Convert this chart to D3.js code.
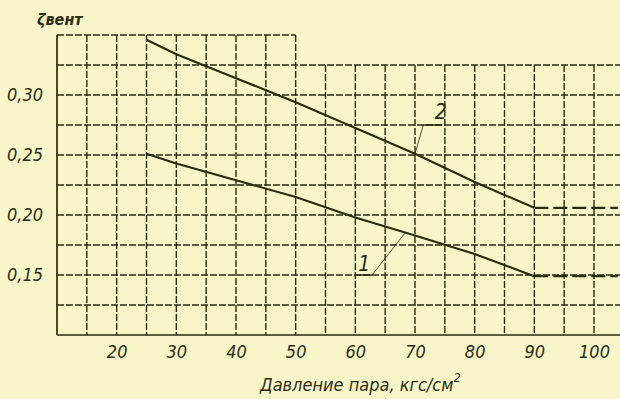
<!DOCTYPE html>
<html><head><meta charset="utf-8">
<script src="https://cdn.jsdelivr.net/npm/d3@7"></script>
<style>
html,body{margin:0;padding:0;background:#f8f6c8;}
svg{display:block;}
text{font-family:"Liberation Sans Narrow","DejaVu Sans Condensed",sans-serif;font-style:italic;fill:#2c2c12;}
</style></head>
<body>
<script>
// data
const xTicks = [20, 30, 40, 50, 60, 70, 80, 90, 100];
const yTicks = [0.15, 0.20, 0.25, 0.30];
const yTickLabels = ["0,15", "0,20", "0,25", "0,30"];
const pressure = [25, 30, 40, 50, 60, 70, 80, 90];
const curve1 = [0.251, 0.243, 0.229, 0.215, 0.198, 0.183, 0.1675, 0.149];
const curve2 = [0.346, 0.334, 0.314, 0.294, 0.2725, 0.251, 0.2275, 0.206];
const tailX = [90, 104];
const tail1 = [0.149, 0.149];
const tail2 = [0.206, 0.206];
const yTitle = "ζвент";
const xTitle = "Давление пара, кгс/см";

const W = 620, H = 399;
const svg = d3.select("body").append("svg").attr("width", W).attr("height", H);
svg.append("rect").attr("width", W).attr("height", H).attr("fill", "#f8f6c8");

const x = d3.scaleLinear().domain([10, 100]).range([57, 594]);
const y = d3.scaleLinear().domain([0.10, 0.35]).range([335, 35]);
const ink = "#2a2a10";
const font = '"Liberation Sans Narrow","DejaVu Sans Condensed",sans-serif';

// grid
const g = svg.append("g");
const vLines = d3.range(10, 101, 5);
g.selectAll("line.v").data(vLines).enter().append("line")
  .attr("x1", d => x(d)).attr("x2", d => x(d))
  .attr("y1", d => y(d <= 50 ? 0.35 : 0.325)).attr("y2", y(0.10))
  .attr("stroke", ink).attr("stroke-width", d => d === 10 ? 1.7 : 1.4)
  .attr("stroke-dasharray", d => d === 10 ? null : "7,2");
const hLines = d3.range(0, 11).map(i => 0.10 + i * 0.025);
g.selectAll("line.h").data(hLines).enter().append("line")
  .attr("x1", x(10)).attr("x2", d => d > 0.34 ? x(50) : W)
  .attr("y1", d => y(d)).attr("y2", d => y(d))
  .attr("stroke", ink).attr("stroke-width", d => d < 0.11 ? 1.7 : 1.4)
  .attr("stroke-dasharray", d => d < 0.11 ? null : "7,2");

// curves
const line = d3.line().x(d => x(d[0])).y(d => y(d[1]));
[curve1, curve2].forEach(c => {
  svg.append("path").datum(pressure.map((p, i) => [p, c[i]]))
    .attr("d", line).attr("fill", "none").attr("stroke", ink).attr("stroke-width", 2.1);
});
[tail1, tail2].forEach(c => {
  svg.append("path").datum(tailX.map((p, i) => [p, c[i]]))
    .attr("d", line).attr("fill", "none").attr("stroke", ink).attr("stroke-width", 2.3)
    .attr("stroke-dasharray", "14,5");
});

// axes tick labels
const xAxis = svg.append("g").attr("transform", `translate(0,${y(0.10)})`)
  .call(d3.axisBottom(x).tickValues(xTicks).tickSize(0).tickPadding(10).tickFormat(d3.format("d")));
xAxis.select(".domain").remove();
xAxis.selectAll("text").attr("font-size", 18).attr("fill", ink)
  .style("font-family", font).style("font-style", "italic");

const yAxis = svg.append("g").attr("transform", `translate(${x(10)},0)`)
  .call(d3.axisLeft(y).tickValues(yTicks).tickSize(0).tickPadding(14).tickFormat((d, i) => yTickLabels[i]));
yAxis.select(".domain").remove();
yAxis.selectAll("text").attr("font-size", 18).attr("fill", ink)
  .style("font-family", font).style("font-style", "italic");

// titles
svg.append("text").attr("x", 37).attr("y", 25).attr("font-size", 16).attr("font-weight", "bold").text(yTitle);
const xt = svg.append("text").attr("x", 260).attr("y", 391).attr("font-size", 18).text(xTitle);
xt.append("tspan").attr("dy", -9).attr("font-size", 13).text("2");

// curve labels
const ann = svg.append("g");
ann.append("text").attr("x", x(74.3)).attr("y", 119).attr("text-anchor", "middle").attr("font-size", 21).text("2");
ann.append("line").attr("x1", x(71.4)).attr("x2", x(74.6)).attr("y1", 125).attr("y2", 125).attr("stroke", ink).attr("stroke-width", 1.5);
ann.append("line").attr("x1", x(71.4)).attr("y1", 125).attr("x2", x(70)).attr("y2", y(0.251)).attr("stroke", ink).attr("stroke-width", 0.8);

ann.append("text").attr("x", x(61.5)).attr("y", 271).attr("text-anchor", "middle").attr("font-size", 21).text("1");
ann.append("line").attr("x1", x(60.2)).attr("x2", x(62.8)).attr("y1", 275).attr("y2", 275).attr("stroke", ink).attr("stroke-width", 1.5);
ann.append("line").attr("x1", x(62.8)).attr("y1", 275).attr("x2", x(68.5)).attr("y2", y(0.186)).attr("stroke", ink).attr("stroke-width", 0.8);
</script>
</body></html>
